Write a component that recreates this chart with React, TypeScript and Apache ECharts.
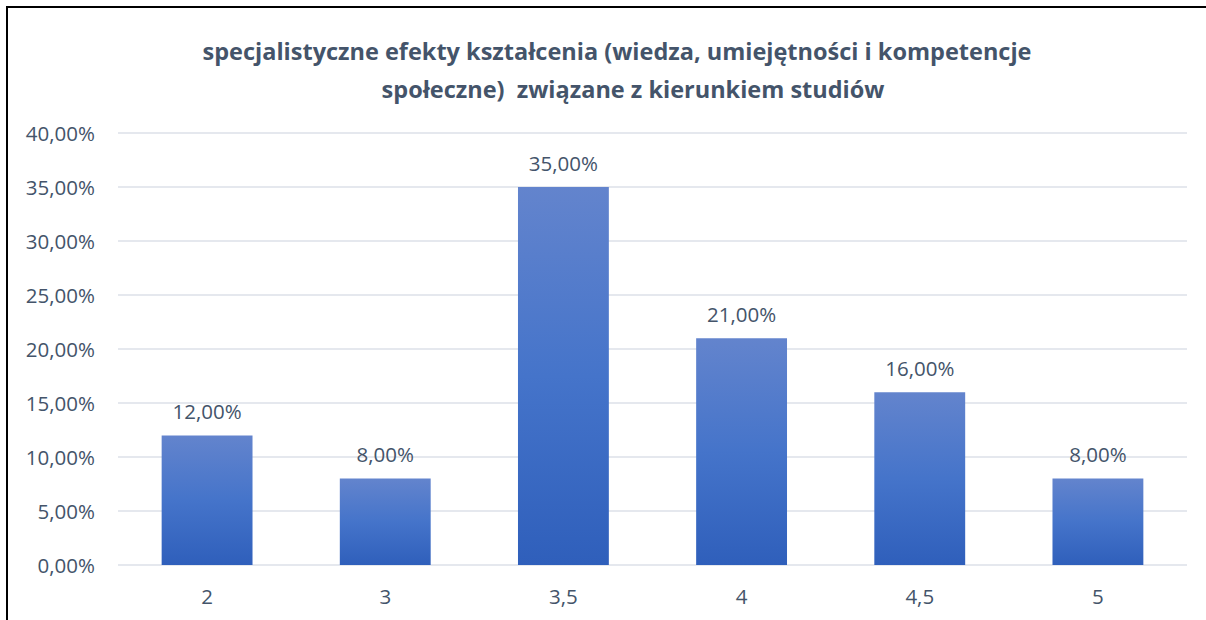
import React, { useEffect, useRef } from "react";
import * as echarts from "echarts";

const categories = ["2", "3", "3,5", "4", "4,5", "5"];
const values = [12, 8, 35, 21, 16, 8];
const titleLines = [
  "specjalistyczne efekty kształcenia (wiedza, umiejętności i kompetencje",
  "społeczne)  związane z kierunkiem studiów",
];

const FONT = "'Open Sans', sans-serif";
const TXT = "#44546a";

const fmt = (v: number) => v.toFixed(2).replace(".", ",") + "%";

const titleStyle = {
  fontFamily: FONT,
  fontSize: 23.5,
  fontWeight: "bold",
  color: TXT,
};

export default function App() {
  const ref = useRef<HTMLDivElement>(null);
  useEffect(() => {
    const chart = echarts.init(ref.current!, null, { renderer: "svg" });
    chart.setOption({
      animation: false,
      backgroundColor: "#ffffff",
      title: [
        { text: titleLines[0], left: 612, top: 34, textAlign: "center", textStyle: titleStyle },
        { text: titleLines[1], left: 628, top: 72, textAlign: "center", textStyle: titleStyle },
      ],
      grid: { left: 118, right: 19, top: 133, bottom: 55 },
      xAxis: {
        type: "category",
        data: categories,
        axisLine: { show: false },
        axisTick: { show: false },
        axisLabel: { fontFamily: FONT, fontSize: 20.5, color: TXT, margin: 20 },
      },
      yAxis: {
        type: "value",
        min: 0,
        max: 40,
        interval: 5,
        axisLabel: {
          fontFamily: FONT,
          fontSize: 20.5,
          color: TXT,
          margin: 23,
          formatter: (v: number) => fmt(v),
        },
        splitLine: { lineStyle: { color: "#dde1e8", width: 1.5 } },
      },
      series: [
        {
          type: "bar",
          data: values,
          barWidth: "51%",
          itemStyle: {
            color: new echarts.graphic.LinearGradient(0, 0, 0, 1, [
              { offset: 0, color: "#6384cd" },
              { offset: 0.5, color: "#4574ca" },
              { offset: 1, color: "#2f5fbb" },
            ]),
          },
          label: {
            show: true,
            position: "top",
            distance: 14,
            fontFamily: FONT,
            fontSize: 20.5,
            color: TXT,
            formatter: (p: any) => fmt(p.value),
          },
        },
      ],
    });
    return () => chart.dispose();
  }, []);
  return (
    <div
      style={{
        position: "fixed",
        left: 0,
        top: 0,
        width: 1206,
        height: 620,
        background: "#fff",
        overflow: "hidden",
      }}
    >
      <div ref={ref} style={{ position: "absolute", left: 0, top: 0, width: 1206, height: 620 }} />
      <div
        style={{
          position: "absolute",
          left: 6,
          top: 6,
          width: 1198,
          height: 612,
          borderLeft: "2px solid #000",
          borderTop: "2px solid #000",
          pointerEvents: "none",
        }}
      />
    </div>
  );
}
